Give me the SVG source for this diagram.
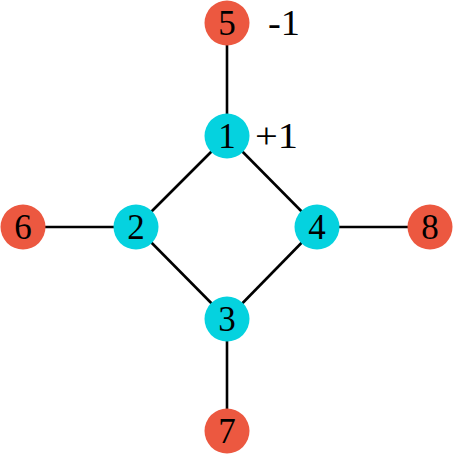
<svg xmlns="http://www.w3.org/2000/svg" width="454" height="454" viewBox="0 0 454 454">
<style>
.edge{stroke:#000;stroke-width:2.6;fill:none}
.red{fill:#EC5840}
.cyan{fill:#05D2DF}
.lbl{font-family:"Liberation Serif","DejaVu Serif",serif;font-size:35px;fill:#000;text-anchor:middle}
.ann{font-family:"Liberation Serif","DejaVu Serif",serif;font-size:35px;fill:#000}
</style>
<rect width="454" height="454" fill="#fff"/>
<g id="edges">
<line class="edge" x1="227" y1="23" x2="227" y2="136"/>
<line class="edge" x1="227" y1="136" x2="136" y2="227"/>
<line class="edge" x1="227" y1="136" x2="317" y2="227"/>
<line class="edge" x1="136" y1="227" x2="227" y2="319"/>
<line class="edge" x1="317" y1="227" x2="227" y2="319"/>
<line class="edge" x1="23" y1="227" x2="136" y2="227"/>
<line class="edge" x1="317" y1="227" x2="430" y2="227"/>
<line class="edge" x1="227" y1="319" x2="227" y2="431"/>
</g>
<g id="n5"><circle class="red" cx="227" cy="23" r="22.5"/><text class="lbl" x="227" y="35">5</text></g>
<g id="n1"><circle class="cyan" cx="227" cy="136" r="22.5"/><text class="lbl" x="227" y="148">1</text></g>
<g id="n2"><circle class="cyan" cx="136" cy="227" r="22.5"/><text class="lbl" x="136" y="239">2</text></g>
<g id="n4"><circle class="cyan" cx="317" cy="227" r="22.5"/><text class="lbl" x="317" y="239">4</text></g>
<g id="n3"><circle class="cyan" cx="227" cy="319" r="22.5"/><text class="lbl" x="227" y="331">3</text></g>
<g id="n6"><circle class="red" cx="23" cy="227" r="22.5"/><text class="lbl" x="23" y="239">6</text></g>
<g id="n8"><circle class="red" cx="430" cy="227" r="22.5"/><text class="lbl" x="430" y="239">8</text></g>
<g id="n7"><circle class="red" cx="227" cy="431" r="22.5"/><text class="lbl" x="227" y="443">7</text></g>
<text class="ann" x="268" y="35" textLength="32" lengthAdjust="spacingAndGlyphs">-1</text>
<text class="ann" x="255" y="148" textLength="43" lengthAdjust="spacingAndGlyphs">+1</text>
</svg>
